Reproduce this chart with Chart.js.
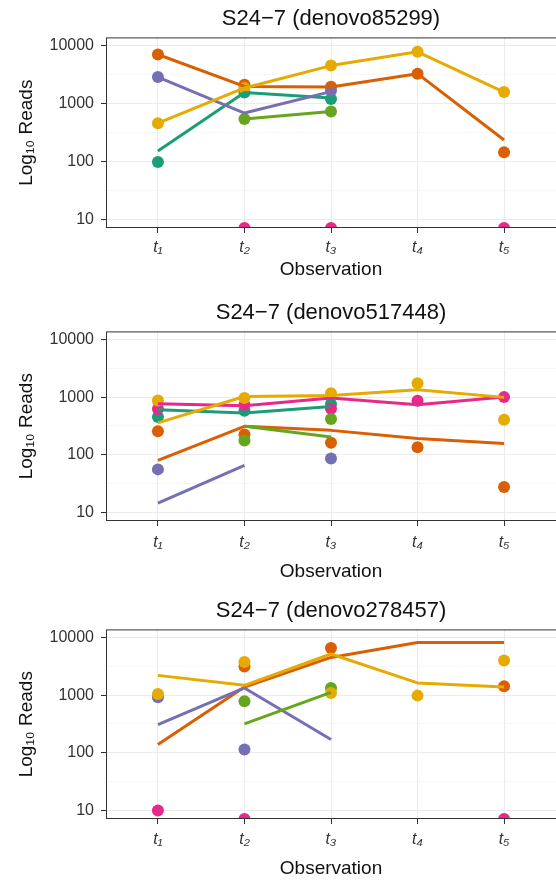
<!DOCTYPE html>
<html>
<head>
<meta charset="utf-8">
<script src="https://cdn.jsdelivr.net/npm/chart.js@4.4.1/dist/chart.umd.min.js"></script>
<style>
  html, body { margin: 0; padding: 0; background: #fff; }
  canvas { display: block; }
</style>
</head>
<body>
<canvas id="c1" width="556" height="294"></canvas>
<canvas id="c2" width="556" height="298"></canvas>
<canvas id="c3" width="556" height="291"></canvas>
<script>
const OBSERVATIONS = ['t₁', 't₂', 't₃', 't₄', 't₅'];
// Dark2: teal, orange, purple, pink, green, yellow (rows of every table below)
const COLOURS = ['#1b9e77', '#d95f02', '#7570b3', '#e7298a', '#66a61e', '#e6ab02'];
const Y_TICKS = [10, 100, 1000, 10000];
const Y_MIN = 7.1, Y_MAX = 13800;
const FONT = "'Liberation Sans', Arial, Helvetica, sans-serif";

// 0 = zero reads, drawn on the floor of the panel (like -Inf in ggplot)
const reads85299 = [
  [98, 1550, 1190, null, null],
  [7000, 2100, 1950, 3270, 144],
  [2860, null, 1680, null, null],
  [null, 0, 0, null, 0],
  [null, 538, 727, null, null],
  [457, 1850, 4500, 7780, 1575]
];
const fit85299 = [
  [151, 1550, 1240, null, null],
  [7000, 1970, 1925, 3270, 234],
  [2860, 683, 1600, null, null],
  [null, null, null, null, null],
  [null, 538, 727, null, null],
  [457, 1850, 4500, 7780, 1575]
];

const reads517448 = [
  [452, 581, 760, null, null],
  [255, 224, 161, 135, 27.6],
  [55.8, null, 86, null, null],
  [621, 740, 628, 863, 1000],
  [null, 177, 417, null, null],
  [873, 961, 1172, 1742, 406]
];
const fit517448 = [
  [604, 530, 689, null, null],
  [80, 311, 265, 191, 157],
  [14.5, 65.5, null, null, null],
  [766, 710, 961, 736, 1000],
  [null, 311, 204, null, null],
  [357, 1025, 1067, 1336, 990]
];

const reads278457 = [
  [null, null, null, null, null],
  [null, 3150, 6560, null, 1420],
  [916, 114, null, null, null],
  [10, 0, null, null, 0],
  [null, 781, 1333, null, null],
  [1050, 3750, 1092, 980, 4000]
];
const fit278457 = [
  [null, null, null, null, null],
  [139, 1380, 4510, 8190, 8190],
  [309, 1333, 170, null, null],
  [null, null, null, null, null],
  [null, 318, 1117, null, null],
  [2200, 1479, 5160, 1626, 1387]
];

const panelBorder = {
  id: 'panelBorder',
  afterDatasetsDraw(chart) {
    const { ctx, chartArea: a } = chart;
    ctx.save();
    ctx.strokeStyle = '#333';
    ctx.lineWidth = 1;
    ctx.strokeRect(a.left + 0.5, a.top + 0.5, a.right - a.left + 2, a.bottom - a.top - 1);
    ctx.restore();
  }
};

const toXY = (vals) => vals
  .map((v, i) => v == null ? null : { x: i + 1, y: v === 0 ? Y_MIN : v })
  .filter(p => p);

const isMajor = (c) => c.tick && Y_TICKS.includes(c.tick.value);

const drawPanel = (id, title, reads, fit, layout) => {
  const datasets = [];
  reads.forEach((vals, k) => datasets.push({
    data: toXY(vals),
    backgroundColor: COLOURS[k],
    borderWidth: 0,
    pointRadius: 6,
    pointHoverRadius: 6,
    showLine: false
  }));
  fit.forEach((vals, k) => datasets.push({
    data: toXY(vals),
    borderColor: COLOURS[k],
    borderWidth: 3,
    borderCapStyle: 'butt',
    borderJoinStyle: 'round',
    pointRadius: 0,
    pointHoverRadius: 0,
    showLine: true
  }));
  // later datasets on top
  datasets.forEach((d, i) => { d.order = datasets.length - 1 - i; });

  const yGrid = [];
  Y_TICKS.forEach((v, i) => {
    yGrid.push(v);
    if (i < Y_TICKS.length - 1) yGrid.push(Math.sqrt(v * Y_TICKS[i + 1]));
  });

  const canvas = document.getElementById(id);
  new Chart(canvas, {
    type: 'scatter',
    data: { datasets },
    options: {
      responsive: false,
      animation: false,
      events: [],
      layout: { padding: 0, autoPadding: false },
      plugins: {
        legend: { display: false },
        tooltip: { enabled: false },
        title: {
          display: true,
          fullSize: false,
          text: title,
          color: '#111',
          font: { family: FONT, size: 22, weight: 'normal' },
          padding: { top: 6, bottom: 5 }
        }
      },
      scales: {
        x: {
          type: 'linear',
          min: 0.4,
          max: 5.6,
          afterBuildTicks: s => { s.ticks = OBSERVATIONS.map((_, i) => ({ value: i + 1 })); },
          afterFit: s => {
            s.height = canvas.height - layout.plotBottom;
            s.paddingLeft = 0;
            s.paddingRight = 0;
          },
          ticks: {
            callback: v => OBSERVATIONS[v - 1],
            autoSkip: false,
            maxRotation: 0,
            padding: layout.tickPad,
            color: '#333',
            font: { family: FONT, size: 16, style: 'italic' }
          },
          grid: { color: '#ebebeb', lineWidth: 1, tickLength: 5, tickColor: '#333' },
          border: { display: false },
          title: {
            display: true,
            text: 'Observation',
            color: '#111',
            font: { family: FONT, size: 19 },
            padding: { top: 0, bottom: layout.xTitlePad }
          }
        },
        y: {
          type: 'logarithmic',
          min: Y_MIN,
          max: Y_MAX,
          afterBuildTicks: s => { s.ticks = yGrid.map(v => ({ value: v })); },
          afterFit: s => { s.width = 106; },
          ticks: {
            callback: v => Y_TICKS.includes(v) ? String(v) : '',
            autoSkip: false,
            padding: 7,
            color: '#333',
            font: { family: FONT, size: 16 }
          },
          grid: {
            color: c => isMajor(c) ? '#ebebeb' : '#f4f4f4',
            lineWidth: c => isMajor(c) ? 1 : 0.7,
            tickLength: 5,
            tickColor: c => isMajor(c) ? '#333' : 'rgba(0,0,0,0)'
          },
          border: { display: false },
          title: {
            display: true,
            text: 'Log₁₀ Reads',
            color: '#111',
            font: { family: FONT, size: 19 },
            padding: { top: 15, bottom: 0 }
          }
        }
      }
    },
    plugins: [panelBorder]
  });
};

drawPanel('c1', 'S24−7 (denovo85299)', reads85299, fit85299, { plotBottom: 228, tickPad: 5, xTitlePad: 12.6 });
drawPanel('c2', 'S24−7 (denovo517448)', reads517448, fit517448, { plotBottom: 227, tickPad: 7, xTitlePad: 8.9 });
drawPanel('c3', 'S24−7 (denovo278457)', reads278457, fit278457, { plotBottom: 227, tickPad: 6, xTitlePad: 3.3 });
</script>
</body>
</html>
